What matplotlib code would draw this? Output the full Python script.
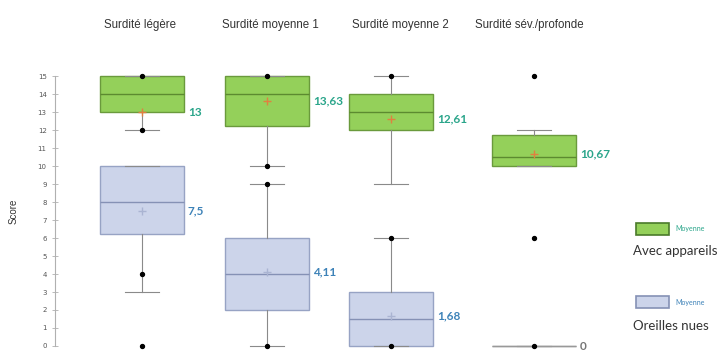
import numpy as np
import matplotlib.pyplot as plt
from matplotlib.patches import Rectangle

categories = ['Surdité légère', 'Surdité moyenne 1', 'Surdité moyenne 2', 'Surdité sév./profonde']

# Avec appareils
app_q1 = [13, 12.25, 12, 10]
app_med = [14, 14, 13, 10.5]
app_q3 = [15, 15, 14, 11.75]
app_lo = [12, 10, 9, 10]
app_hi = [15, 15, 15, 12]
app_mean = [13, 13.63, 12.61, 10.67]
app_labels = ['13', '13,63', '12,61', '10,67']
app_points = [[15, 12], [15, 10], [15], [15, 6]]

# Oreilles nues
nue_q1 = [6.25, 2, 0, 0]
nue_med = [8, 4, 1.5, 0]
nue_q3 = [10, 6, 3, 0]
nue_lo = [3, 0, 0, 0]
nue_hi = [10, 9, 6, 0]
nue_mean = [7.5, 4.11, 1.68, 0]
nue_labels = ['7,5', '4,11', '1,68', '0']
nue_points = [[4, 0], [9, 0], [6, 0], [0]]

W, H = 721, 353
xpos = [142, 267, 391, 534]   # box centres in pixels
box_w = 84

fig = plt.figure(figsize=(W / 100, H / 100), dpi=100)

def fx(x):
    return x / W

def fy(y):
    return 1 - y / H

# y = 0 at pixel 346, y = 15 at pixel 76
ymin, ymax = -0.35, 15.35
ppu = 18.0
top_px = 76 - (ymax - 15) * ppu
bot_px = 346 + (0 - ymin) * ppu
ax = fig.add_axes([fx(55), fy(bot_px), 1 - fx(55), (bot_px - top_px) / H])
ax.set_xlim(55, W)
ax.set_ylim(ymin, ymax)
for s in ['top', 'right', 'bottom']:
    ax.spines[s].set_visible(False)
ax.spines['left'].set_bounds(0, 15)
ax.spines['left'].set_color('#b0b0b0')
ax.spines['left'].set_linewidth(0.8)
ax.set_xticks([])
ax.set_yticks(np.arange(0, 16, 1))
ax.tick_params(axis='y', direction='inout', length=4, width=0.6, color='#b0b0b0',
               labelsize=5, labelcolor='#555555', pad=4)
ax.set_ylabel('Score', fontsize=7, family='Liberation Sans', color='#333333', labelpad=14)


def stats(q1, med, q3, lo, hi, mean):
    return [dict(q1=a, med=b, q3=c, whislo=d, whishi=e, mean=m, fliers=[])
            for a, b, c, d, e, m in zip(q1, med, q3, lo, hi, mean)]


series = [
    (stats(app_q1, app_med, app_q3, app_lo, app_hi, app_mean), app_points, app_mean, app_labels,
     '#94d05a', '#6a9a3c', '#5c8a30', '#e08040', '#2aa58a'),
    (stats(nue_q1, nue_med, nue_q3, nue_lo, nue_hi, nue_mean), nue_points, nue_mean, nue_labels,
     '#ccd4ea', '#97a3c4', '#8591b5', '#aab4d2', '#3d82b8'),
]

for st, pts, means, labels, fill, edge, medc, meanc, labc in series:
    bp = ax.bxp(st, positions=xpos, widths=box_w, capwidths=34, patch_artist=True,
                showfliers=False, showmeans=True, manage_ticks=False,
                boxprops=dict(facecolor=fill, edgecolor=edge, linewidth=1.0),
                medianprops=dict(color=medc, linewidth=1.0),
                whiskerprops=dict(color='#8a8a8a', linewidth=0.8),
                capprops=dict(color='#8a8a8a', linewidth=0.8),
                meanprops=dict(marker='+', markeredgecolor=meanc, markersize=6,
                               markeredgewidth=1.0))
    # a flat box collapses to a grey line
    for i, s in enumerate(st):
        if s['q1'] == s['q3']:
            bp['boxes'][i].set_edgecolor('#999999')
            bp['medians'][i].set_color('#999999')
            bp['means'][i].set_visible(False)
    for x, p in zip(xpos, pts):
        ax.scatter([x] * len(p), p, s=8, color='black', zorder=5, clip_on=False)
    for x, m, lab in zip(xpos, means, labels):
        c = '#777777' if lab == '0' else labc
        ax.text(x + box_w / 2 + 4, m, lab, fontsize=8.5, fontweight='bold', color=c,
                family='Lato', va='center', ha='left')

# column headers
for x, name in zip([140, 270, 400, 529], categories):
    fig.text(fx(x), fy(25), name, fontsize=8.3, family='Liberation Sans', color='#333333',
             ha='center', va='center')

# legend
legend = [('#94d05a', '#4a7a2a', '#2aa58a', 223, 'Avec appareils', 251),
          ('#ccd4ea', '#8591b5', '#3d82b8', 296, 'Oreilles nues', 326)]
for fill, edge, tc, ytop, name, yname in legend:
    fig.add_artist(Rectangle((fx(636), fy(ytop + 12)), fx(33), 12 / H,
                             facecolor=fill, edgecolor=edge, linewidth=1.2,
                             transform=fig.transFigure))
    fig.text(fx(675), fy(ytop + 6), 'Moyenne', fontsize=5, color=tc, family='Lato',
             va='center', ha='left')
    fig.text(fx(633), fy(yname), name, fontsize=9.5, color='#333333', family='Lato',
             va='center', ha='left')

fig.savefig('out.png', dpi=100)
